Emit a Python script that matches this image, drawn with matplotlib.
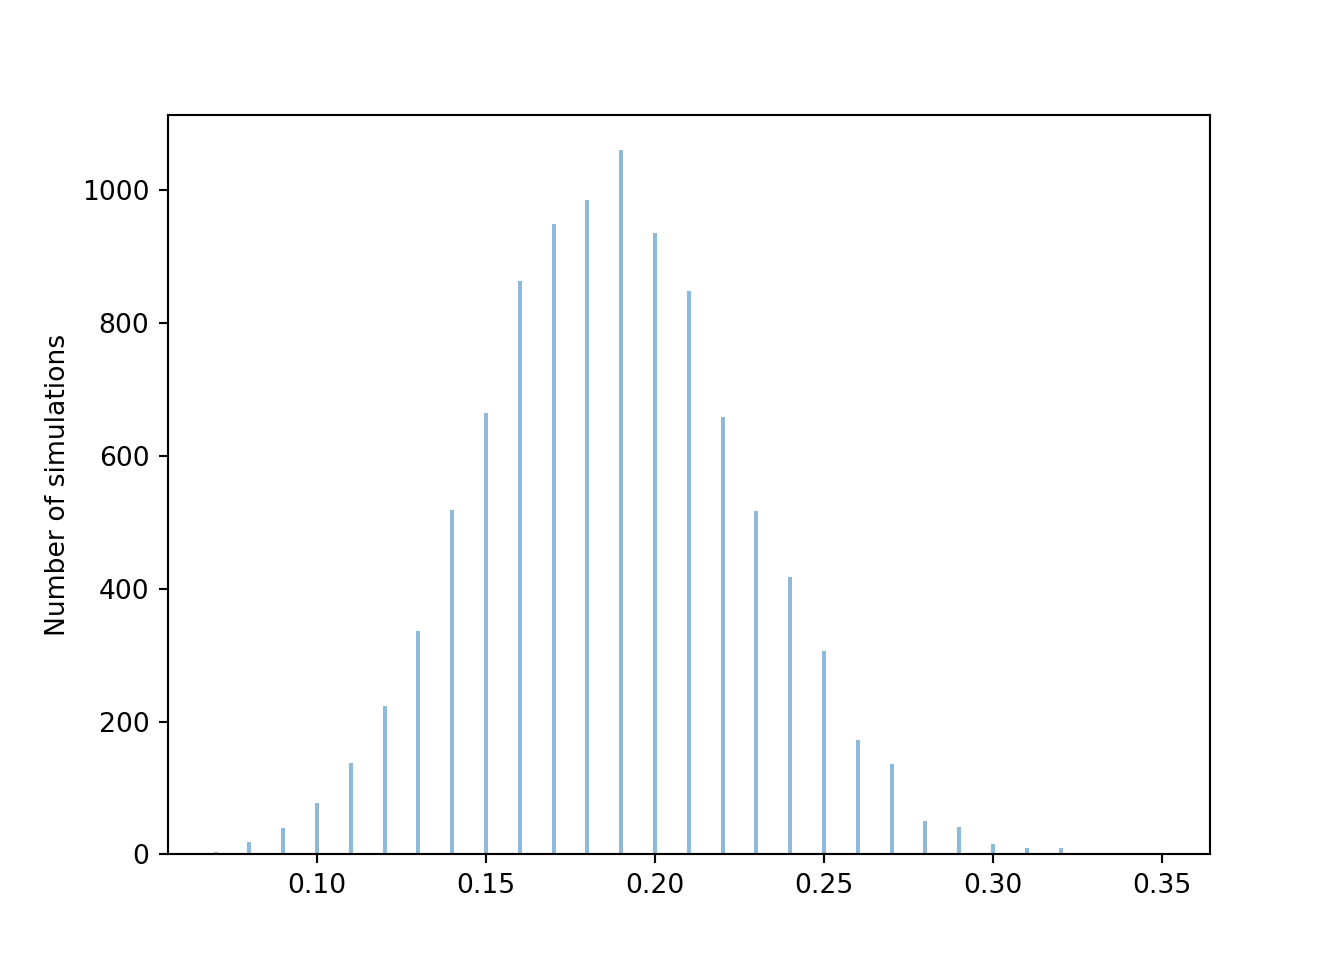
import numpy as np
import matplotlib
matplotlib.use('Agg')
import matplotlib.pyplot as plt

# proportion values and how many simulations landed on each
proportions = [0.07, 0.08, 0.09, 0.10, 0.11, 0.12, 0.13, 0.14, 0.15, 0.16,
               0.17, 0.18, 0.19, 0.20, 0.21, 0.22, 0.23, 0.24, 0.25, 0.26,
               0.27, 0.28, 0.29, 0.30, 0.31, 0.32]
counts = [3, 18, 39, 77, 137, 224, 337, 518, 664, 863,
          949, 986, 1060, 935, 849, 658, 517, 417, 307, 173,
          136, 50, 42, 15, 9, 9]

fig, ax = plt.subplots(figsize=(7, 5), dpi=192)
ax.bar(proportions, counts, width=0.0012, color='#1f77b4', alpha=0.5)
ax.set_ylabel('Number of simulations')
ax.set_xlim(0.0559, 0.3641)
ax.set_xticks([0.10, 0.15, 0.20, 0.25, 0.30, 0.35])
ax.set_xticklabels(['0.10', '0.15', '0.20', '0.25', '0.30', '0.35'])

fig.savefig('out.png', dpi=192)
